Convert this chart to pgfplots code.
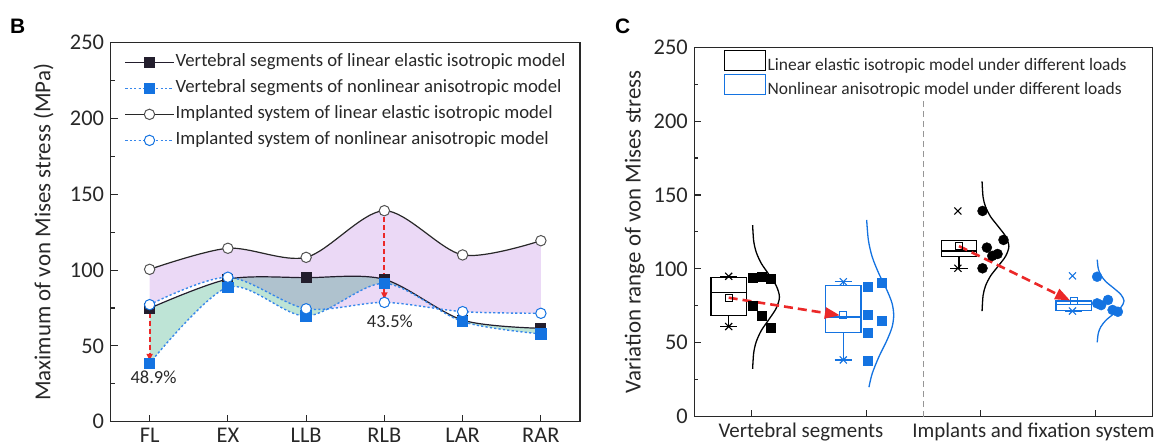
\documentclass[border=0pt]{standalone}
\usepackage{fontspec}
\setmainfont{Carlito}
\newfontfamily\arialfont{Liberation Sans}
\usepackage{pgfplots}
\usepackage{pgfplotstable}
\pgfplotsset{compat=1.18}
\usepgfplotslibrary{fillbetween,statistics}
\usetikzlibrary{arrows.meta}

\definecolor{axgray}{RGB}{40,40,40}
\definecolor{myblue}{RGB}{20,115,225}
\definecolor{dotblue}{RGB}{55,135,235}
\definecolor{purplefill}{RGB}{235,217,246}
\definecolor{greenfill}{RGB}{190,228,214}
\definecolor{myred}{RGB}{235,40,40}
\definecolor{darkline}{RGB}{35,30,45}
\definecolor{dashgray}{RGB}{150,150,150}

\pgfplotstableread{
x IL IN VL VN
0 100.5 77.2 74.8 38.5
1 114.4 95.3 94.0 88.7
2 108.4 74.5 95.0 69.7
3 139.2 78.7 93.9 91.3
4 110.0 72.6 67.0 66.0
5 119.4 71.5 61.6 57.9
}\dataB

\pgfplotsset{
  panel/.style={
    scale only axis,
    axis line style={axgray, line width=1.3bp},
    tick style={axgray, line width=1.1bp},
    major tick length=7bp, minor tick length=4bp,
    xtick pos=bottom, ytick pos=left,
    tick align=inside,
    ymin=0, ymax=250, ytick={0,50,...,250}, minor y tick num=1,
    tick label style={font=\fontsize{22.5}{24}\selectfont, text=axgray},
    /pgf/number format/assume math mode=true,
    yticklabel style={xshift=-3bp},
    xticklabel style={yshift=-3bp},
    label style={font=\fontsize{23}{26}\selectfont, text=axgray},
  }
}

\begin{document}
\begin{tikzpicture}

% ---------------- Panel B ----------------
\begin{axis}[panel,
  at={(110.5bp,25.3bp)}, anchor=south west,
  width=469.5bp, height=379bp,
  xmin=-0.5, xmax=5.5, xtick={0,...,5},
  xticklabels={FL,EX,LLB,RLB,LAR,RAR},
  ylabel={Maximum of von Mises stress (MPa)},
  ylabel style={at={(axis description cs:-0.128,0.5)}, anchor=base},
  legend style={at={(0.03,0.975)}, anchor=north west, draw=none, fill=none,
    inner sep=0pt, row sep=6bp, font=\fontsize{18.8}{21}\selectfont, text=axgray,
    nodes={inner sep=1.5bp, text depth=4bp, text height=13bp}},
  legend cell align=left,
  legend image code/.code={\draw[mark repeat=2,mark phase=2] plot coordinates {(0bp,0bp) (24bp,0bp) (48bp,0bp)};},
]
\addplot[draw=none, smooth, name path=IL, forget plot] table[x=x,y=IL]{\dataB};
\addplot[draw=none, smooth, name path=IN, forget plot] table[x=x,y=IN]{\dataB};
\addplot[draw=none, smooth, name path=VL, forget plot] table[x=x,y=VL]{\dataB};
\addplot[draw=none, smooth, name path=VN, forget plot] table[x=x,y=VN]{\dataB};
\addplot[purplefill, forget plot] fill between[of=IL and IN];
\addplot[greenfill, blend mode=multiply, forget plot] fill between[of=VL and VN];

\addplot[darkline, line width=1.2bp, smooth, mark=square*, mark size=5bp,
  mark options={solid, fill=darkline, draw=darkline}] table[x=x,y=VL]{\dataB};
\addlegendentry{Vertebral segments of linear elastic isotropic model}
\addplot[dotblue, line width=1.4bp, dash pattern=on 2.2bp off 2.2bp, smooth, mark=square*, mark size=5bp,
  mark options={solid, fill=myblue, draw=myblue}] table[x=x,y=VN]{\dataB};
\addlegendentry{Vertebral segments of nonlinear anisotropic model}
\addplot[axgray, line width=1.2bp, smooth, mark=*, mark size=5.2bp,
  mark options={solid, fill=white, draw=axgray!80, line width=1bp}] table[x=x,y=IL]{\dataB};
\addlegendentry{Implanted system of linear elastic isotropic model}
\addplot[dotblue, line width=1.4bp, dash pattern=on 2.2bp off 2.2bp, smooth, mark=*, mark size=5.2bp,
  mark options={solid, fill=white, draw=myblue, line width=1bp}] table[x=x,y=IN]{\dataB};
\addlegendentry{Implanted system of nonlinear anisotropic model}

\addplot[myred, line width=2bp, dash pattern=on 5bp off 3bp, -{Latex[length=8bp,width=7bp]}, forget plot]
  coordinates {(0,72) (0,39.5)};
\addplot[myred, line width=2bp, dash pattern=on 5bp off 3bp, -{Latex[length=8bp,width=7bp]}, forget plot]
  coordinates {(3,135) (3,80)};
\node[font=\fontsize{18.5}{20}\selectfont, text=axgray] at (axis cs:0.05,29.3) {48.9\%};
\node[font=\fontsize{18.5}{20}\selectfont, text=axgray] at (axis cs:3.07,66) {43.5\%};
\end{axis}

% ---------------- Panel C ----------------
\begin{axis}[panel,
  at={(694.3bp,30.3bp)}, anchor=south west,
  width=458.4bp, height=369.5bp,
  xmin=0.5, xmax=4.5, xtick={1,2,3,4}, xticklabels={},
  extra x ticks={1.43,3.46},
  extra x tick labels={Vertebral segments,Implants and fixation system},
  extra x tick style={major tick length=0pt, xticklabel style={font=\fontsize{21}{23}\selectfont}},
  ylabel={Variation range of von Mises stress},
  ylabel style={at={(axis description cs:-0.117,0.5)}, anchor=base},
  boxplot/draw direction=y,
  legend style={at={(0.064,0.994)}, anchor=north west, draw=none, fill=white,
    inner sep=0pt, row sep=1bp, font=\fontsize{17.5}{19}\selectfont, text=axgray,
    nodes={inner sep=1.5bp}},
  legend cell align=left,
]
\addplot[dashgray, line width=1.5bp, dash pattern=on 6bp off 4bp, forget plot]
  coordinates {(2.5,0) (2.5,250)};

% box plots
\addplot[black, line width=1.3bp, forget plot, boxplot prepared={draw position=0.8, box extend=0.31,
  lower whisker=61, lower quartile=68.3, median=84, upper quartile=94, upper whisker=94.7, whisker extend=0.15}]
  coordinates {};
\addplot[myblue, line width=1.3bp, forget plot, boxplot prepared={draw position=1.8, box extend=0.31,
  lower whisker=38.4, lower quartile=56.8, median=67.5, upper quartile=88.9, upper whisker=91.3, whisker extend=0.15}]
  coordinates {};
\addplot[black, line width=1.3bp, forget plot, boxplot prepared={draw position=2.81, box extend=0.31,
  lower whisker=100.4, lower quartile=108.3, median=112.1, upper quartile=119.1, upper whisker=119.4, whisker extend=0.15}]
  coordinates {};
\addplot[myblue, line width=1.3bp, forget plot, boxplot prepared={draw position=3.81, box extend=0.31,
  lower whisker=71.5, lower quartile=71.8, median=75.8, upper quartile=78.3, upper whisker=78.8, whisker extend=0.15}]
  coordinates {};

% mean markers and min/max crosses
\addplot[only marks, mark=square, mark size=3.5bp, black, line width=1bp, forget plot]
  coordinates {(0.8,80.5) (2.81,115.4)};
\addplot[only marks, mark=square, mark size=3.5bp, myblue, line width=1bp, forget plot]
  coordinates {(1.8,68.5) (3.81,78.3)};
\addplot[only marks, mark=x, mark size=5bp, black, line width=1.1bp, forget plot]
  coordinates {(0.8,95) (0.8,61) (2.8,139.2) (2.8,100.4)};
\addplot[only marks, mark=x, mark size=5bp, myblue, line width=1.1bp, forget plot]
  coordinates {(1.8,91.3) (1.8,38.4) (3.8,95.3) (3.8,71.5)};

% data points
\addplot[only marks, mark=square*, mark size=4.5bp, black, forget plot]
  coordinates {(1.009,94.0) (1.087,94.7) (1.169,93.2) (1.009,74.9) (1.087,68.1) (1.169,60.2)};
\addplot[only marks, mark=square*, mark size=4.5bp, myblue, forget plot]
  coordinates {(2.012,88.2) (2.132,90.7) (2.012,68.8) (2.132,65.0) (2.012,56.8) (2.012,37.7)};
\addplot[only marks, mark=*, mark size=5bp, black, forget plot]
  coordinates {(3.015,139.2) (3.198,119.6) (3.053,114.4) (3.146,110.1) (3.10,108.8) (3.015,100.4)};
\addplot[only marks, mark=*, mark size=5bp, myblue, forget plot]
  coordinates {(4.015,94.7) (4.015,76.7) (4.05,75.5) (4.11,79.0) (4.15,72.2) (4.196,71.0)};

% normal curves
\addplot[black, line width=1.3bp, smooth, forget plot] coordinates {
  (1.009,32.4) (1.018,43.0) (1.040,50.6) (1.084,58.2) (1.151,65.8) (1.215,73.4) (1.243,81.0)
  (1.215,88.6) (1.151,96.2) (1.084,103.8) (1.040,111.4) (1.018,119.0) (1.009,129.6)};
\addplot[myblue, line width=1.3bp, smooth, forget plot] coordinates {
  (2.024,20.0) (2.052,29.1) (2.110,40.4) (2.181,51.7) (2.226,60.7) (2.240,68.65)
  (2.226,76.6) (2.181,85.6) (2.110,96.9) (2.052,108.2) (2.019,119.5) (2.004,133.1)};
\addplot[black, line width=1.3bp, smooth, forget plot] coordinates {
  (3.011,71.4) (3.020,82.05) (3.042,88.7) (3.086,95.35) (3.153,102.0) (3.217,108.65) (3.245,115.3)
  (3.217,121.95) (3.153,128.6) (3.086,135.25) (3.042,141.9) (3.020,148.55) (3.011,159.2)};
\addplot[myblue, line width=1.3bp, smooth, forget plot] coordinates {
  (4.016,50.3) (4.025,56.4) (4.047,60.8) (4.091,65.2) (4.158,69.5) (4.222,73.9) (4.250,78.3)
  (4.222,82.7) (4.158,87.1) (4.091,91.4) (4.047,95.8) (4.025,100.2) (4.016,106.3)};

% red arrows
\addplot[myred, line width=2.6bp, dash pattern=on 9bp off 5bp, -{Triangle[length=15bp,width=11bp]}, forget plot]
  coordinates {(0.8,80.5) (1.77,68.6)};
\addplot[myred, line width=2.6bp, dash pattern=on 9bp off 5bp, -{Triangle[length=15bp,width=11bp]}, forget plot]
  coordinates {(2.81,115.4) (3.78,78.6)};

\addlegendimage{legend image code/.code={\draw[black, line width=1.3bp] (0bp,-5.5bp) rectangle (41bp,14.5bp);}}
\addlegendentry{Linear elastic isotropic model under different loads}
\addlegendimage{legend image code/.code={\draw[myblue, line width=1.3bp] (0bp,-5.5bp) rectangle (41bp,14.5bp);}}
\addlegendentry{Nonlinear anisotropic model under different loads}
\end{axis}

\node[anchor=base west, inner sep=0pt, font=\arialfont\bfseries\fontsize{21}{24}\selectfont] at (10bp,413.7bp) {B};
\node[anchor=base west, inner sep=0pt, font=\arialfont\bfseries\fontsize{21}{24}\selectfont] at (615bp,413.7bp) {C};

\pgfresetboundingbox
\path (0,0) rectangle (1161bp,447bp);
\end{tikzpicture}
\end{document}
